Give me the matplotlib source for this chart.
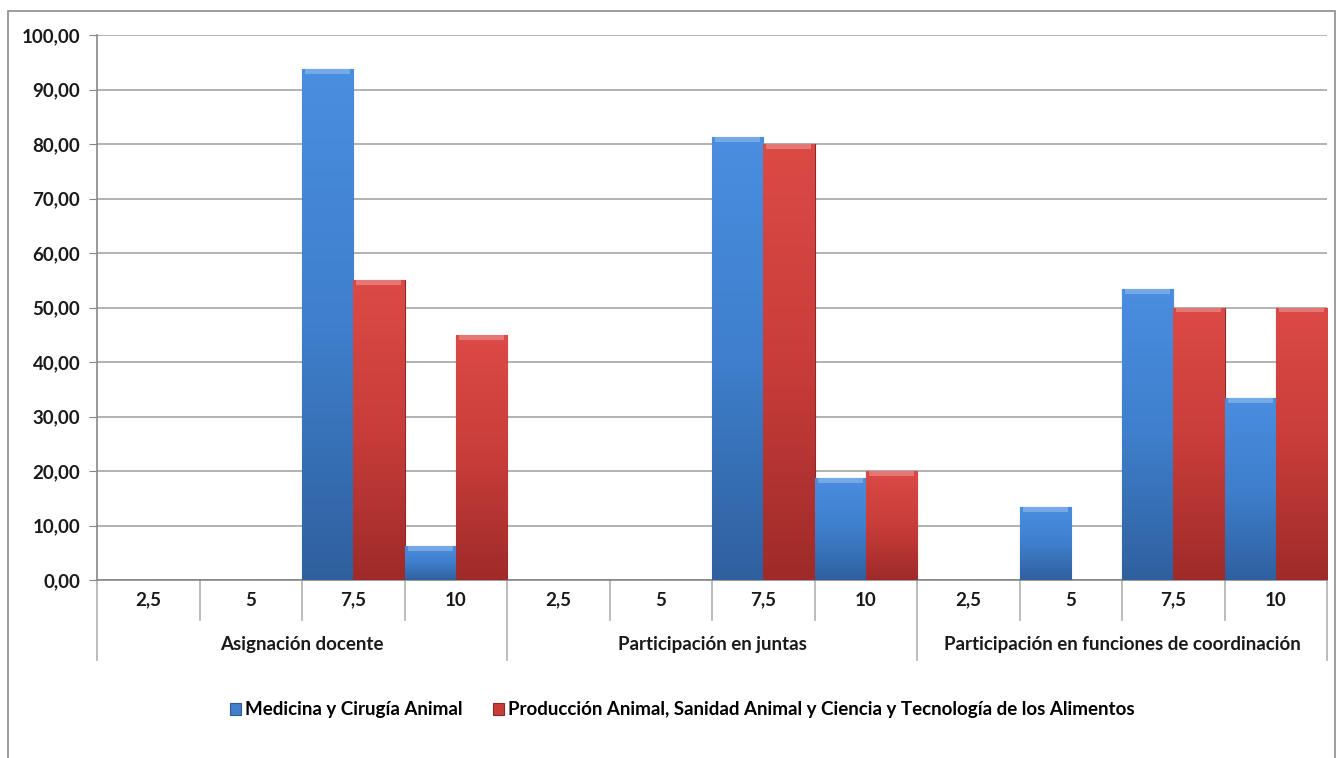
import numpy as np
import matplotlib.pyplot as plt
from matplotlib.colors import LinearSegmentedColormap
from matplotlib.patches import Rectangle

plt.rcParams['font.family'] = ['Lato', 'DejaVu Sans']
plt.rcParams['font.weight'] = 'bold'

groups = ['Asignación docente', 'Participación en juntas',
          'Participación en funciones de coordinación']
subcats = ['2,5', '5', '7,5', '10']
series_names = ['Medicina y Cirugía Animal',
                'Producción Animal, Sanidad Animal y Ciencia y Tecnología de los Alimentos']
medicina = [0, 0, 93.75, 6.25, 0, 0, 81.25, 18.75, 0, 13.33, 53.33, 33.33]
produccion = [0, 0, 55.0, 45.0, 0, 0, 80.0, 20.0, 0, 0, 50.0, 50.0]
yticks = np.arange(0, 101, 10)

# top -> bottom shading of the bars
shades = [['#4a8ee0', '#3f7fcc', '#2f609e'],
          ['#dc4a46', '#c83d3a', '#9e2b29']]
edge_cols = ['#2d5a92', '#8e2826']

fig = plt.figure(figsize=(13.43, 7.58), dpi=100)
ax = fig.add_axes([97/1343, 1 - 580/758, 1230/1343, 545/758])

n = len(medicina)
x = np.arange(n)
w = 0.5
grad = np.linspace(1, 0, 256).reshape(-1, 1)
for k, vals in enumerate([medicina, produccion]):
    cmap = LinearSegmentedColormap.from_list('c%d' % k, shades[k][::-1])
    bars = ax.bar(x - 0.5 + k*w, vals, w, align='edge', color=shades[k][1],
                  edgecolor=edge_cols[k], linewidth=0.8, zorder=3,
                  label=series_names[k])
    for b in bars:
        h = b.get_height()
        if h <= 0:
            continue
        x0, bw = b.get_x(), b.get_width()
        im = ax.imshow(grad, cmap=cmap, aspect='auto', zorder=3.5,
                       extent=[x0, x0 + bw, 0, h], interpolation='bicubic')
        im.set_clip_path(b)
        # light bevel on top edge
        ax.add_patch(Rectangle((x0 + 0.03, h - 0.9), bw - 0.06, 0.9,
                               color='white', alpha=0.25, lw=0, zorder=4))

ax.set_xlim(-0.5, n - 0.5)
ax.set_ylim(0, 100)
ax.set_yticks(yticks)
ax.set_yticklabels([('%.2f' % v).replace('.', ',') for v in yticks])
ax.tick_params(axis='y', length=6, color='#888888', labelsize=13.5, pad=6,
               labelcolor='#1a1a1a')
ax.set_xticks([])
ax.grid(axis='y', color='#a6a6a6', linewidth=1.2, zorder=0)
for s in ['top', 'right']:
    ax.spines[s].set_visible(False)
ax.spines['left'].set_color('#888888')
ax.spines['bottom'].set_color('#888888')
ax.spines['left'].set_linewidth(1.2)
ax.spines['bottom'].set_linewidth(1.2)

# two-level category axis
trans = ax.get_xaxis_transform()
for i in range(n + 1):
    xe = i - 0.5
    low = -0.147 if i % 4 == 0 else -0.073
    ax.plot([xe, xe], [0, low], color='#b0b0b0', lw=1.2, transform=trans,
            clip_on=False)
for i in range(n):
    ax.text(i, -0.037, subcats[i % 4], transform=trans, ha='center',
            va='center', fontsize=13.5, color='#1a1a1a')
for g, name in enumerate(groups):
    ax.text(g*4 + 1.5, -0.119, name, transform=trans, ha='center',
            va='center', fontsize=13.5, color='#1a1a1a')

fig.legend(loc='center', bbox_to_anchor=(0.508, 1 - 710/758), ncol=2,
           frameon=False, fontsize=13.5, handlelength=0.6, handleheight=0.6,
           handletextpad=0.2, columnspacing=1.6)

fig.patches.append(Rectangle((8/1343, -0.05), 1327/1343, 1 - 11/758 + 0.05,
                             transform=fig.transFigure, fill=False,
                             edgecolor='#8c8c8c', lw=1.2))

fig.savefig('out.png', dpi=100)
